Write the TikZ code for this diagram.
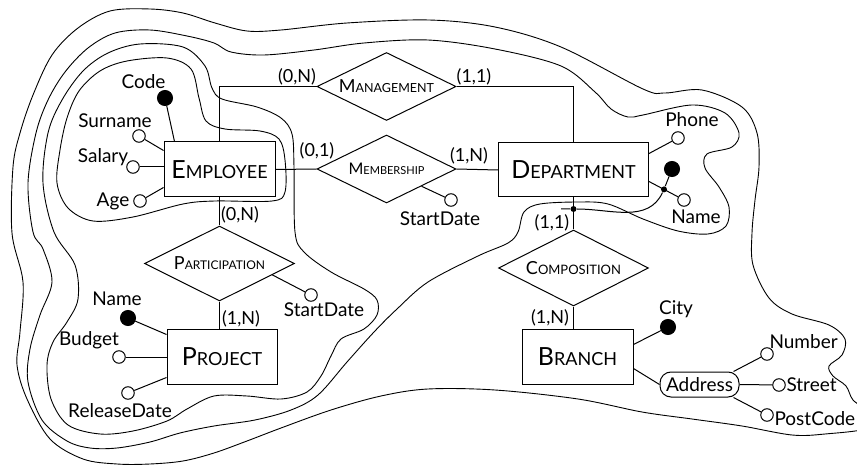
\documentclass[tikz,border=0pt]{standalone}
\usepackage{fontspec}
\setmainfont{Lato}
\usetikzlibrary{shapes.geometric}
\usetikzlibrary{calc}
\usetikzlibrary{positioning}

% fake small caps: first letter, then the rest smaller
\newcommand{\capsname}[4]{{\fontsize{#1}{#1}\selectfont #3}{\fontsize{#2}{#2}\selectfont #4}}
\newcommand{\entname}[2]{\capsname{25}{18}{#1}{#2}}

\begin{document}
\begin{tikzpicture}[
		x=1pt, y=-1pt,
		line width=1pt,
		every node/.style={inner sep=0pt},
		ent/.style={draw, rectangle, minimum width=111, minimum height=55},
		rel/.style={draw, diamond, aspect=2},
		att/.style={draw, circle, fill=white, minimum size=12.5},
		key/.style={draw, circle, fill=black, minimum size=15},
		joint/.style={circle, fill=black, minimum size=6},
		lbl/.style={font=\fontsize{19}{19}\selectfont,
				text height=13.7pt, % cap height only
				text depth=0pt},
		card/.style={font=\fontsize{18}{18}\selectfont,
				text height=13pt,
				text depth=0pt},
		blob/.style={line width=0.9pt}
	]
	\clip (0,0) rectangle (857,465);

	% nested views
	\draw[blob] plot[smooth cycle, tension=0.55] coordinates {
			(127,61) (167,58) (191,69) (199,98) (206,121) (225,129) (260,131) (279,139)
			(285,160) (285,192) (272,201) (215,201) (183,204) (133,217) (93,221) (68,208)
			(57,183) (60,150) (67,118) (79,91) (100,71)};
	\draw[blob] plot[smooth cycle, tension=0.55] coordinates {
			(140,44) (183,47) (205,66) (212,88) (222,99) (257,107) (281,118) (292,134)
			(294,167) (295,232) (304,252) (331,272) (364,289) (377,300) (377,315) (364,329)
			(341,339) (331,356) (321,376) (307,392) (281,399) (247,396) (214,396) (187,409)
			(167,421) (133,431) (100,434) (68,425) (51,399) (47,365) (53,342) (67,322)
			(78,299) (75,265) (54,232) (43,183) (48,133) (62,100) (83,71) (108,53)};
	\draw[blob] plot[smooth cycle, tension=0.55] coordinates {
			(115,33) (150,30) (187,36) (214,43) (231,52) (264,55) (314,50) (364,43)
			(428,40) (495,49) (561,66) (595,92) (611,109) (628,117) (643,115) (692,105)
			(725,113) (739,133) (732,147) (707,154) (705,168) (719,187) (729,207) (726,226)
			(708,234) (678,231) (643,219) (608,204) (578,202) (540,204) (524,212) (518,232)
			(508,243) (478,256) (428,282) (397,309) (374,332) (347,362) (318,395) (291,410)
			(255,420) (214,426) (180,433) (150,442) (117,448) (90,448) (67,441) (42,420)
			(28,382) (30,349) (40,315) (52,282) (43,249) (33,232) (28,183) (36,133)
			(48,100) (65,72) (88,48)};
	\draw[blob] plot[smooth cycle, tension=0.55] coordinates {
			(110,11) (150,9) (183,13) (215,23) (247,31) (281,30) (347,23) (429,20)
			(495,27) (561,47) (643,89) (665,93) (702,90) (742,107) (757,133) (759,167)
			(755,200) (752,233) (753,265) (769,298) (792,314) (829,325) (845,339) (842,355)
			(829,366) (833,376) (846,386) (853,400) (868,412) (868,428) (825,434) (792,435)
			(742,426) (692,419) (642,412) (578,399) (495,390) (428,389) (381,396) (331,410)
			(281,428) (247,441) (214,453) (183,461) (150,464) (117,464) (83,459) (50,439)
			(27,399) (17,365) (20,332) (23,282) (12,233) (13,167) (20,133) (33,95)
			(52,55) (78,28)};

	% entities
	\node[ent] (emp) at (219.5,169.5) {\entname{E}{MPLOYEE}};
	\node[ent, minimum width=150, minimum height=54] (dep) at (573.5,170) {\entname{D}{EPARTMENT}};
	\node[ent, minimum width=110] (prj) at (222,356.5) {\entname{P}{ROJECT}};
	\node[ent] (br) at (577.5,356.5) {\entname{B}{RANCH}};

	% relationships
	\node[rel, minimum width=139, minimum height=68] (mgt) at (386.5,86.5) {\capsname{18}{12.5}{M}{ANAGEMENT}};
	\node[rel, minimum width=139, minimum height=68] (mem) at (386.5,169) {\capsname{16}{11}{M}{EMBERSHIP}};
	\node[rel, minimum width=150, minimum height=75] (par) at (219.5,263.5) {\capsname{18}{12}{P}{ARTICIPATION}};
	\node[rel, minimum width=150, minimum height=76] (comp) at (573.5,268) {\capsname{18}{13}{C}{OMPOSITION}};

	\draw (emp.north) |- (mgt.west);
	\draw (mgt.east) -| (dep.north);
	\draw (emp.east) -- (mem.west);
	\draw (mem.east) -- (dep.west);
	\draw (emp.south) -- (par.north);
	\draw (par.south) -- (par.south |- prj.north);
	\draw (dep.south) -- (comp.north);
	\draw (comp.south) -- (comp.south |- br.north);

	\node[card] (c1) at (297,76) {(0,N)};
	\node[card] (c2) at (474,76) {(1,1)};
	\node[card] (c3) at (317,150) {(0,1)};
	\node[card] (c4) at (469,155) {(1,N)};
	\node[card] (c5) at (240,214) {(0,N)};
	\node[card] (c6) at (241,318) {(1,N)};
	\node[card] (c7) at (552,222) {(1,1)};
	\node[card] (c8) at (550,317) {(1,N)};

	% employee attributes
	\node[key] (code) at (165,98) {};
	\node[att] (sur) at (139,136) {};
	\node[att] (sal) at (133,167) {};
	\node[att] (age) at (140,201) {};
	\draw (code) -- ([xshift=11pt]emp.north west);
	\draw (sur) -- ([yshift=-9pt]emp.north west);
	\draw (sal) -- (sal -| emp.west);
	\draw (age) -- ([yshift=10pt]emp.south west);
	\node[lbl] (codet) at (143.5,81.5) {Code};
	\node[lbl] (surt) at (115,120.5) {Surname};
	\node[lbl] (salt) at (103,156) {Salary};
	\node[lbl] (aget) at (113,199.5) {Age};

	% membership attribute
	\node[att] (msd) at (451,200) {};
	\draw (mem.south east) -- (msd);
	\node[lbl] (msdt) at (440,219) {StartDate};

	% participation attribute
	\node[att] (psd) at (311,295) {};
	\draw ($(par.east)!0.3!(par.south)$) -- (psd);
	\node[lbl] (psdt) at (324,310) {StartDate};

	% project attributes
	\node[key] (pnm) at (128,318) {};
	\node[att] (bud) at (119,357) {};
	\node[att] (rel) at (128,393) {};
	\draw (pnm) -- ([yshift=-6pt]prj.north west);
	\draw (bud) -- (bud -| prj.west);
	\draw (rel) -- ([yshift=7pt]prj.south west);
	\node[lbl] (pnmt) at (117,299) {Name};
	\node[lbl] (budt) at (89,339) {Budget};
	\node[lbl] (relt) at (120,411) {ReleaseDate};

	% department attributes and external identifier
	\node[att] (ph) at (678,138) {};
	\node[key] (did) at (672,169) {};
	\node[att] (dnm) at (684,200) {};
	\node[joint] (dot1) at (664,189.4) {};
	\node[joint] (dot2) at (573.5,209) {};
	\coordinate (idend) at (561,209);
	\draw (ph) -- ([yshift=-11pt]dep.north east);
	\draw ([yshift=16pt]dep.south east) -- (dnm);
	\draw (did) -- (dot1);
	\draw (idend) -- (dot2) to[out=0, in=-115] (dot1);
	\node[lbl] (pht) at (692,120) {Phone};
	\node[lbl] (dnmt) at (696,217) {Name};

	% branch attributes
	\node[key] (city) at (668,327) {};
	\draw ([yshift=-16pt]br.north east) -- (city);
	\node[lbl, draw, rounded corners=11, minimum width=79, minimum height=25] (addr) at (699.5,384.5) {Address};
	\draw ([yshift=16pt]br.south east) -- (addr.west);
	\node[att] (num) at (767,354) {};
	\node[att] (str) at (779,385) {};
	\node[att] (pc) at (767,415) {};
	\draw ([xshift=-6pt]addr.north east) -- (num);
	\draw (addr.east) -- (str);
	\draw ([xshift=-6pt]addr.south east) -- (pc);
	\node[lbl] (cityt) at (676,308) {City};
	\node[lbl, anchor=west] (numt) at (769,342) {Number};
	\node[lbl, anchor=west] (strt) at (786,385) {Street};
	\node[lbl, anchor=west] (pct) at (774,419) {PostCode};
\end{tikzpicture}
\end{document}
